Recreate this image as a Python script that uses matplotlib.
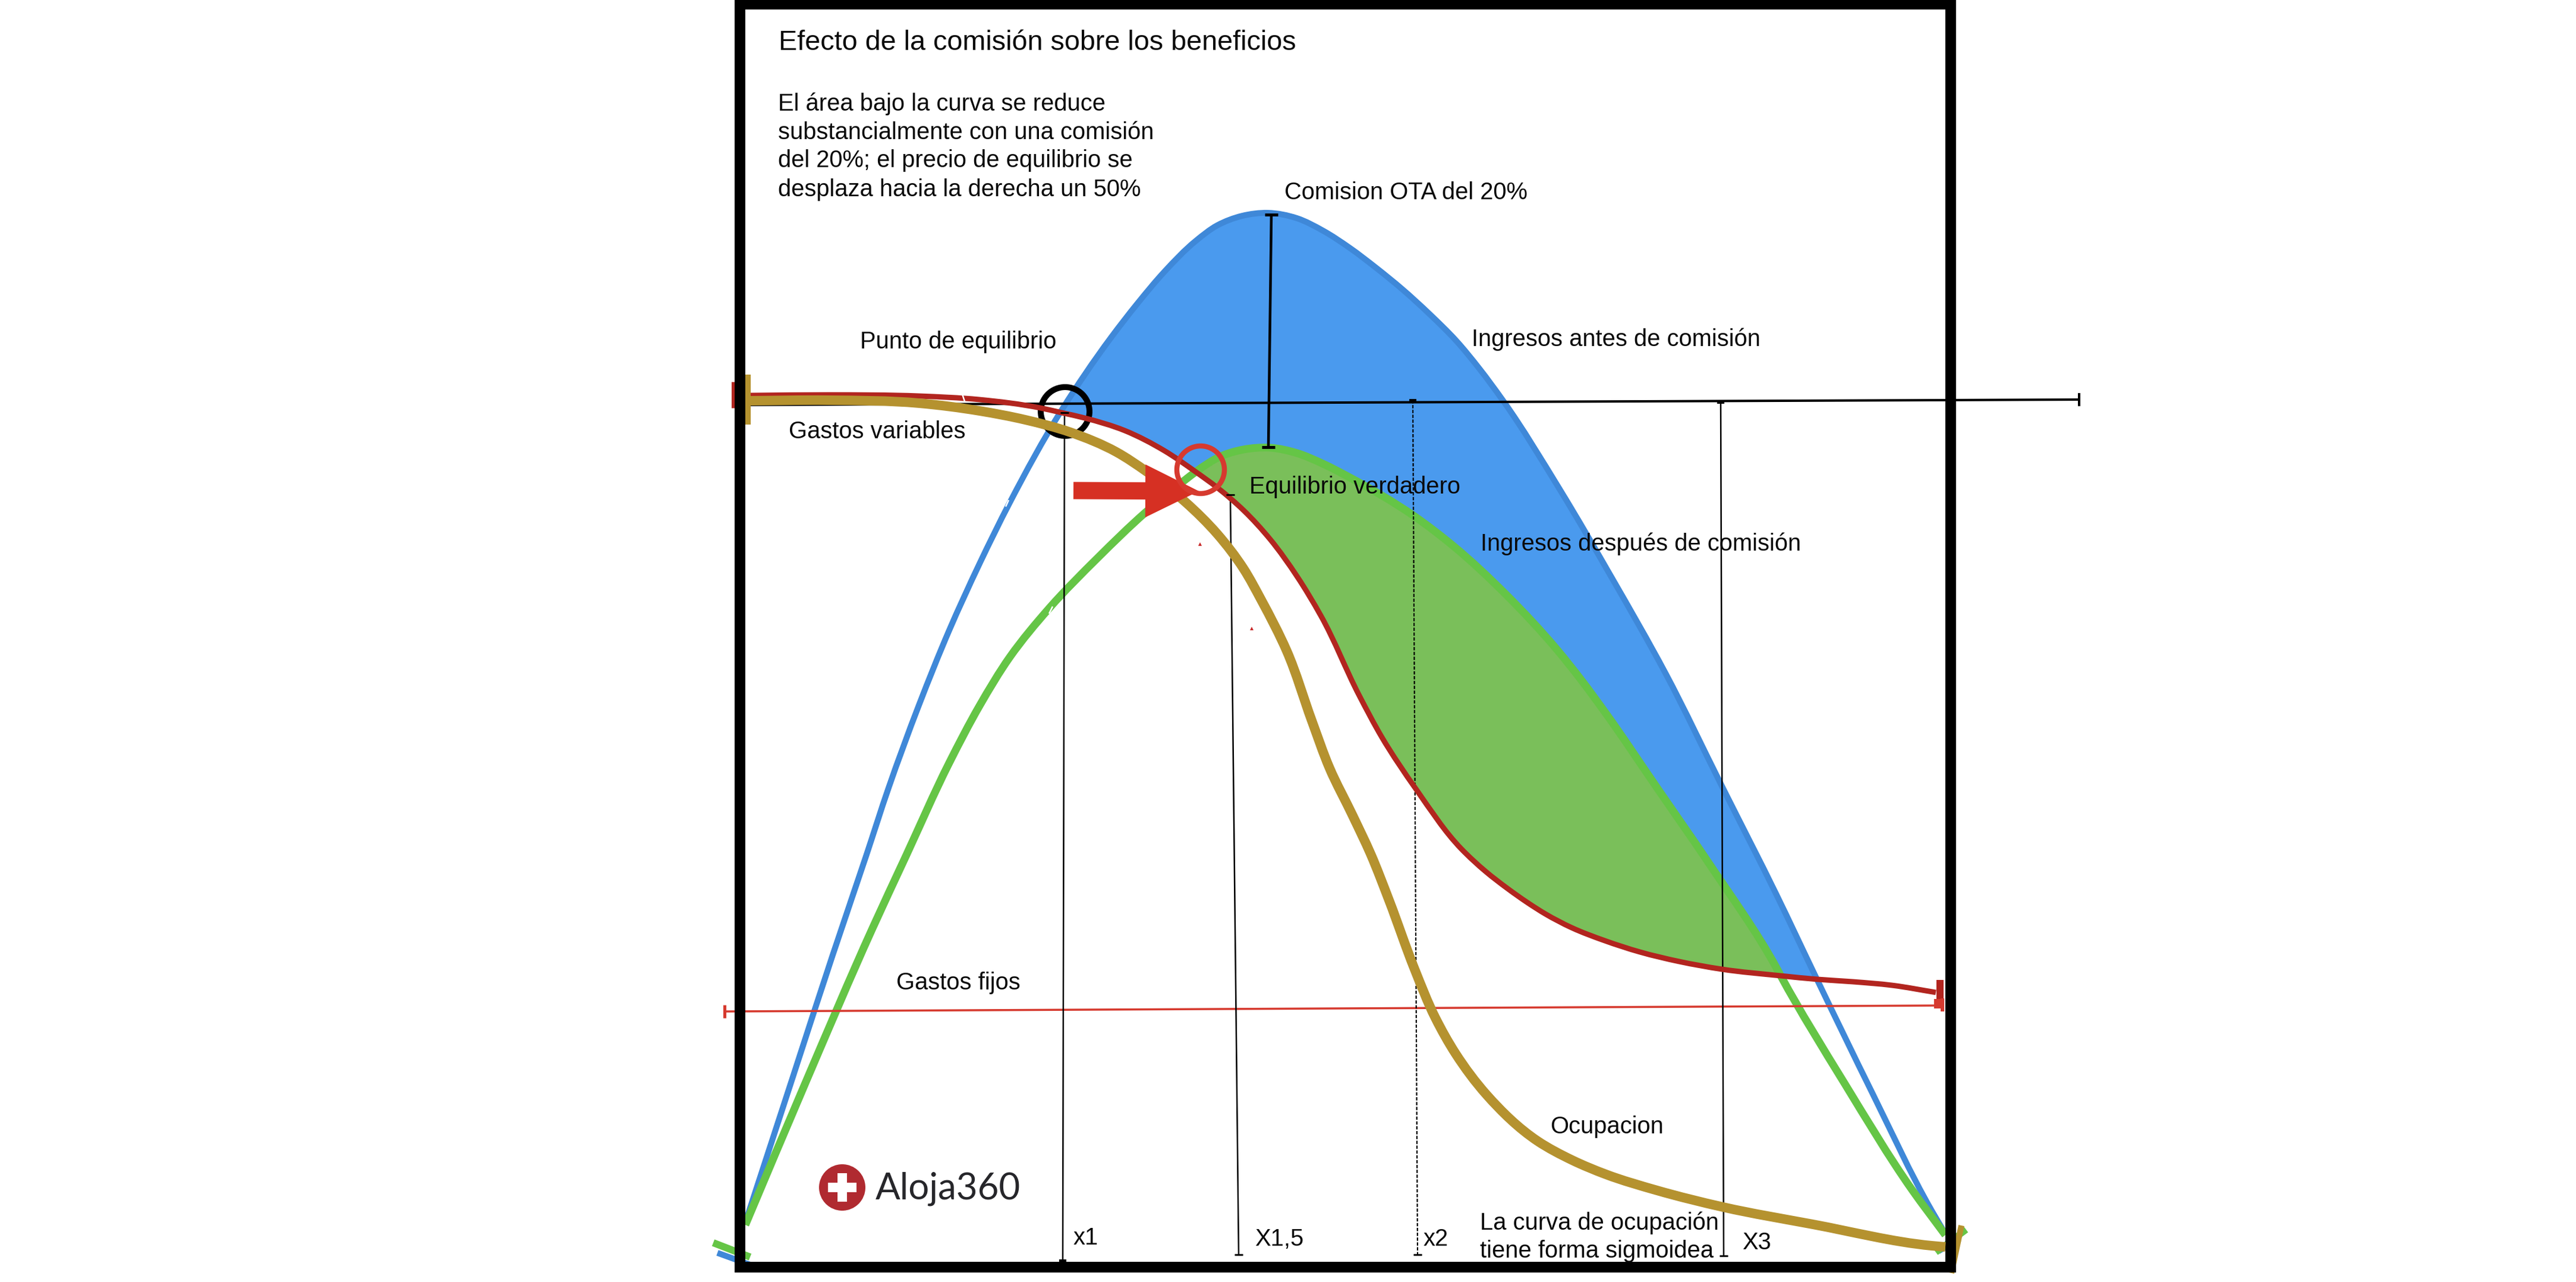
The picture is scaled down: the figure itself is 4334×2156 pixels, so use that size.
import matplotlib
matplotlib.use("Agg")
import matplotlib.pyplot as plt
import numpy as np
from matplotlib.patches import Circle, FancyArrowPatch, PathPatch
from matplotlib.path import Path

WIDTH, HEIGHT = 4334, 2156
DPI = 100
PX = 72 / DPI  # one image pixel in points

plt.rcParams["font.family"] = ["Liberation Sans", "DejaVu Sans"]

# The drawing has no units on its axes, so values are read as image positions.
ingresos_antes_x = [1254, 1334, 1401, 1457, 1495, 1546, 1597, 1648, 1699, 1786, 1869, 1914, 1959, 2012, 2048, 2090,
                    2133, 2182, 2226, 2271, 2316, 2360, 2405, 2450, 2489, 2529, 2623, 2712, 2802, 2897, 2989, 3056,
                    3150, 3250, 3273]
ingresos_antes_y = [2056, 1811, 1606, 1440, 1325, 1186, 1060, 948, 845, 690, 568, 510, 457, 405, 379, 363,
                    358, 367, 388, 417, 451, 487, 528, 573, 620, 674, 821, 972, 1132, 1322, 1505, 1645,
                    1838, 2036, 2075]

ingresos_despues_x = [1254, 1356, 1468, 1524, 1597, 1648, 1699, 1766, 1847, 1927, 1994, 2011, 2057, 2092, 2137, 2182,
                      2226, 2271, 2378, 2445, 2534, 2620, 2660, 2702, 2788, 2874, 2989, 2996, 3104, 3217, 3273]
ingresos_despues_y = [2060, 1819, 1561, 1440, 1283, 1187, 1105, 1022, 938, 862, 807, 794, 766, 756, 753, 762,
                      780, 803, 867, 918, 1000, 1093, 1143, 1200, 1325, 1450, 1628, 1641, 1823, 2001, 2077]

gastos_variables_x = [1263, 1393, 1546, 1648, 1750, 1786, 1825, 1892, 1959, 2011, 2048, 2092, 2137, 2182, 2222, 2287,
                      2325, 2383, 2459, 2500, 2536, 2570, 2600, 2644, 2700, 2759, 2825, 2897, 2996, 3058, 3117, 3183,
                      3257]
gastos_variables_y = [665, 664, 666, 672, 686, 694, 703, 724, 758, 793, 820, 858, 907, 969, 1035, 1170,
                      1240, 1328, 1428, 1466, 1494, 1518, 1537, 1560, 1582, 1601, 1617, 1630, 1641, 1647, 1651, 1657,
                      1669]

ocupacion_x = [1260, 1393, 1546, 1648, 1725, 1801, 1878, 1929, 1994, 2048, 2092, 2122, 2165, 2207, 2237, 2276,
               2306, 2337, 2380, 2415, 2449, 2501, 2587, 2645, 2702, 2788, 2899, 3050, 3250, 3273]
ocupacion_y = [674, 673, 678, 691, 706, 727, 760, 793, 844, 898, 956, 1009, 1095, 1212, 1292, 1372,
               1436, 1514, 1630, 1712, 1772, 1841, 1919, 1951, 1975, 2002, 2030, 2059, 2095, 2097]

# straight rules: (x start, y start, x end, y end)
x1_line = (1791, 694, 1788, 2121)
x15_line = (2070, 832, 2084, 2110)
x2_line = (2377, 673, 2385, 2110)
x3_line = (2895, 677, 2900, 2112)
comision_line = (2139, 361, 2134, 752)
precio_line = (1254, 681, 3498, 672)
gastos_fijos_line = (1219, 1701, 3265, 1691)

# where the income curves leave and meet the variable cost curve
azul_desde, azul_hasta = 1786, 3058
verde_desde, verde_hasta = 2011, 2996

BLUE_FILL = "#4a9aee"
BLUE = "#3f88d8"
GREEN_FILL = "#7abf5a"
GREEN = "#65c546"
RED = "#b2251f"
GOLD = "#b5922f"
BRIGHT_RED = "#d63a2f"


def smooth_path(xs, ys):
    pts = np.column_stack([xs, ys]).astype(float)
    d = np.diff(pts, axis=0)
    seg_len = np.hypot(d[:, 0], d[:, 1])
    m = d / seg_len[:, None]
    tan = np.zeros_like(pts)
    tan[0], tan[-1] = m[0], m[-1]
    w0, w1 = seg_len[:-1, None], seg_len[1:, None]
    tan[1:-1] = (w0 * m[1:] + w1 * m[:-1]) / (w0 + w1)

    verts = [pts[0]]
    codes = [Path.MOVETO]
    for i, length in enumerate(seg_len):
        verts += [pts[i] + tan[i] * length / 3, pts[i + 1] - tan[i + 1] * length / 3, pts[i + 1]]
        codes += [Path.CURVE4] * 3
    return Path(verts, codes)


def curve(ax, xs, ys, color, width, z):
    ax.add_patch(PathPatch(smooth_path(xs, ys), fill=False, edgecolor=color, lw=width * PX,
                           capstyle="butt", zorder=z, clip_on=False))


def region(ax, top_x, top_y, low_x, low_y, start, end, color, z):
    top_x, top_y, low_x, low_y = map(np.asarray, (top_x, top_y, low_x, low_y))
    t = (top_x >= start) & (top_x <= end)
    b = (low_x >= start) & (low_x <= end)
    xs = np.concatenate([top_x[t], low_x[b][::-1]])
    ys = np.concatenate([top_y[t], low_y[b][::-1]])
    ax.fill(xs, ys, color=color, lw=0, zorder=z)


def seg(ax, line, color, width, z, **kw):
    ax.plot([line[0], line[2]], [line[1], line[3]], color=color, lw=width * PX, zorder=z,
            solid_capstyle="butt", clip_on=False, **kw)


def label(ax, x, y, s, size=28.7, **kw):
    ax.text(x, y, s, fontsize=size, ha="left", va="baseline", color="#0a0a0a", zorder=20, **kw)


fig = plt.figure(figsize=(WIDTH / DPI, HEIGHT / DPI), dpi=DPI, facecolor="white")
ax = fig.add_axes([0, 0, 1, 1])
ax.set_xlim(0, WIDTH)
ax.set_ylim(HEIGHT, 0)
ax.axis("off")

region(ax, ingresos_antes_x, ingresos_antes_y, gastos_variables_x, gastos_variables_y,
       azul_desde, azul_hasta, BLUE_FILL, 1)
region(ax, ingresos_despues_x, ingresos_despues_y, gastos_variables_x, gastos_variables_y,
       verde_desde, verde_hasta, GREEN_FILL, 2)

# frame
ax.add_patch(plt.Rectangle((1245, 7), 3281.5 - 1245, 2131 - 7, fill=False, edgecolor="black",
                           lw=18 * PX, joinstyle="miter", zorder=6))

curve(ax, ingresos_antes_x, ingresos_antes_y, BLUE, 10, 3)
curve(ax, ingresos_despues_x, ingresos_despues_y, GREEN, 13, 4)
seg(ax, precio_line, "black", 4, 5)
seg(ax, comision_line, "black", 4.5, 9)
seg(ax, gastos_fijos_line, BRIGHT_RED, 3.5, 5)
seg(ax, x1_line, "black", 2.5, 5)
seg(ax, x15_line, "black", 2.5, 5)
seg(ax, x3_line, "black", 2.5, 5)
ax.plot([x2_line[0], x2_line[2]], [x2_line[1], x2_line[3]], color="black", lw=2.2 * PX, zorder=5,
        linestyle=(0, (2.5, 1.2)))
curve(ax, gastos_variables_x, gastos_variables_y, RED, 9, 7)
curve(ax, ocupacion_x, ocupacion_y, GOLD, 16, 8)

# end caps sitting behind the frame
caps_behind = [
    (1242, 642, 1242, 686, RED, 23),
    (1258, 630, 1258, 714, GOLD, 10),
    (1207, 2107, 1262, 2127, BLUE, 10),
    (1200, 2090, 1262, 2114, GREEN, 12),
    (3262, 2106, 3298, 2085, BLUE, 6),
    (3257, 2106, 3308, 2068, GREEN, 11),
    (3300, 2061, 3283, 2141, GOLD, 10),
]
for c in caps_behind:
    seg(ax, c[:4], c[4], c[5], 5.5)

# end caps on top of everything
caps_front = [
    (3498, 661, 3498, 683, "black", 4),
    (1219, 1690, 1219, 1712, BRIGHT_RED, 5),
    (2128, 361, 2150, 361, "black", 5),
    (2123, 752, 2145, 752, "black", 5),
    (1784, 694, 1798, 694, "black", 3),
    (2063, 832, 2077, 832, "black", 3),
    (2371, 673, 2383, 673, "black", 4),
    (2889, 677, 2901, 677, "black", 4),
    (1782, 2120, 1794, 2120, "black", 4),
    (2077, 2110, 2091, 2110, "black", 3),
    (2378, 2110, 2392, 2110, "black", 3),
    (2893, 2112, 2907, 2112, "black", 3),
    (3264, 1648, 3264, 1685, RED, 12),
    (3254, 1688, 3265, 1688, BRIGHT_RED, 16),
    (3268, 1679, 3268, 1701, BRIGHT_RED, 6),
]
for c in caps_front:
    seg(ax, c[:4], c[4], c[5], 10)

# rings around the two break-even points
ax.add_patch(Circle((1792, 692), 41, fill=False, edgecolor="black", lw=10 * PX, zorder=6.5))
ax.add_patch(Circle((2020, 790), 40, fill=False, edgecolor=BRIGHT_RED, lw=8.5 * PX, zorder=9))

ax.add_patch(FancyArrowPatch((1806, 825), (2017, 826), mutation_scale=1, shrinkA=0, shrinkB=0,
                             arrowstyle=f"simple,head_length={90 * PX},head_width={89 * PX},tail_width={29 * PX}",
                             color="#d63023", lw=0, zorder=8.5))

ax.plot([2019, 2106], [915, 1057], linestyle="none", marker="^", ms=6 * PX, color="#c82a2a",
        markeredgewidth=0, zorder=5)

# small white nicks on the curves
for nick in [(1692, 852, 1697, 841), (1765, 1032, 1771, 1020), (1619, 663, 1623, 675)]:
    seg(ax, nick, "white", 2.5, 7.5)

label(ax, 1310, 84, "Efecto de la comisión sobre los beneficios", size=33.7)
texto_lineas = ["El área bajo la curva se reduce", "substancialmente con una comisión",
                "del 20%; el precio de equilibrio se", "desplaza hacia la derecha un 50%"]
for y, linea in zip([186, 234, 281, 330], texto_lineas):
    label(ax, 1309, y, linea)

label(ax, 2161, 335, "Comision OTA del 20%")
label(ax, 1447, 586, "Punto de equilibrio")
label(ax, 1327, 737, "Gastos variables")
label(ax, 2102, 830, "Equilibrio verdadero")
label(ax, 2476, 582, "Ingresos antes de comisión")
label(ax, 2491, 926, "Ingresos después de comisión")
label(ax, 1508, 1664, "Gastos fijos")
label(ax, 2608, 1906, "Ocupacion")
label(ax, 2490, 2068, "La curva de ocupación")
label(ax, 2490, 2115, "tiene forma sigmoidea")
label(ax, 1806, 2093, "x1")
label(ax, 2111, 2095, "X1,5")
label(ax, 2395, 2095, "x2")
label(ax, 2931, 2101, "X3")

# logo
ax.add_patch(Circle((1417, 1997), 39, facecolor="#b02a30", edgecolor="none", zorder=12))
ax.scatter([1417], [1997], marker="P", s=(48 * PX) ** 2, color="white", linewidths=0, zorder=13)
ax.text(1473, 2017, "Aloja360", fontsize=44.5, family="Lato", color="#26262a", va="baseline", zorder=12)

fig.savefig("out.png", dpi=DPI)
